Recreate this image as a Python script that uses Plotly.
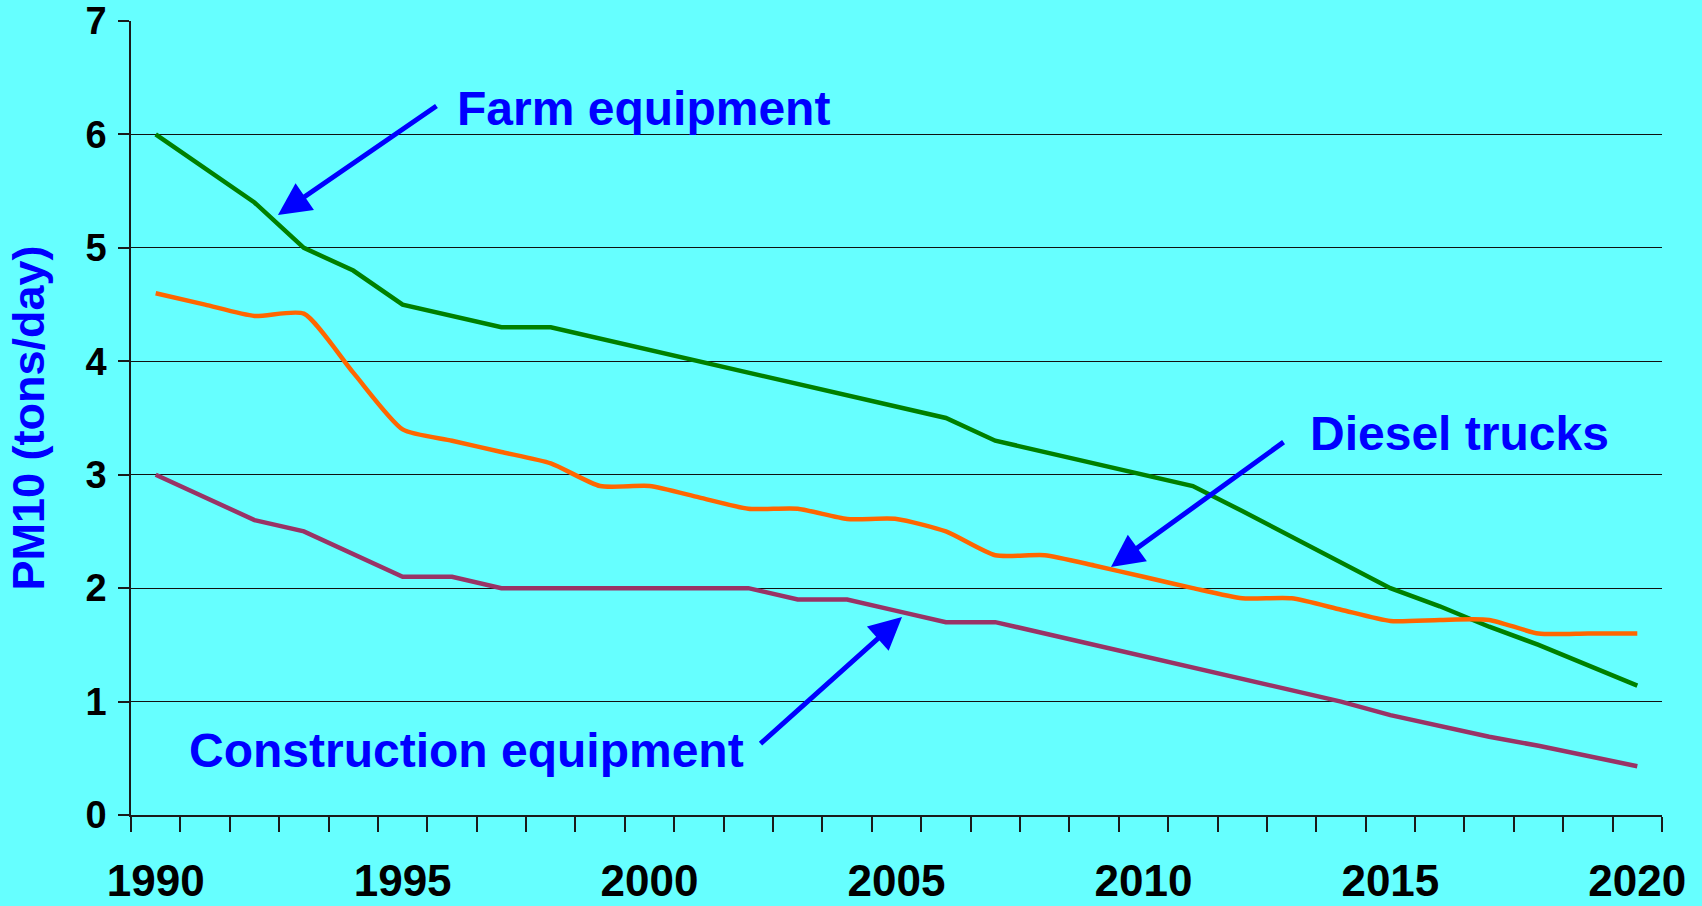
import plotly.graph_objects as go

years = [str(y) for y in range(1990, 2021)]
tick_labels = [y if int(y) % 5 == 0 else "" for y in years]

farm_equipment = [6.0, 5.7, 5.4, 5.0, 4.8, 4.5, 4.4, 4.3, 4.3, 4.2,
                  4.1, 4.0, 3.9, 3.8, 3.7, 3.6, 3.5, 3.3, 3.2, 3.1,
                  3.0, 2.9, 2.68, 2.45, 2.23, 2.0, 1.84, 1.66, 1.5, 1.32,
                  1.14]
diesel_trucks = [4.6, 4.5, 4.4, 4.42, 3.9, 3.4, 3.3, 3.2, 3.1, 2.9,
                 2.9, 2.8, 2.7, 2.7, 2.61, 2.61, 2.5, 2.29, 2.29, 2.2,
                 2.1, 2.0, 1.91, 1.91, 1.81, 1.71, 1.72, 1.72, 1.6, 1.6,
                 1.6]
construction_equipment = [3.0, 2.8, 2.6, 2.5, 2.3, 2.1, 2.1, 2.0, 2.0, 2.0,
                          2.0, 2.0, 2.0, 1.9, 1.9, 1.8, 1.7, 1.7, 1.6, 1.5,
                          1.4, 1.3, 1.2, 1.1, 1.0, 0.88, 0.78, 0.69, 0.61, 0.52,
                          0.43]

FONT = "Arial, Liberation Sans, sans-serif"
BLUE = "#0000FF"

fig = go.Figure()
fig.add_trace(go.Scatter(x=years, y=farm_equipment, mode="lines",
                         line=dict(color="#008000", width=4.5), name="Farm equipment"))
fig.add_trace(go.Scatter(x=years, y=diesel_trucks, mode="lines",
                         line=dict(color="#FF6600", width=4.5, shape="spline", smoothing=0.6),
                         name="Diesel trucks"))
fig.add_trace(go.Scatter(x=years, y=construction_equipment, mode="lines",
                         line=dict(color="#993366", width=4.5), name="Construction equipment"))

# annotation labels and arrows (domain coordinates of the plot area)
labels = [
    ("Farm equipment", 0.2116, 0.8900),
    ("Diesel trucks", 0.7688, 0.4811),
    ("Construction equipment", 0.0366, 0.0810),
]
for text, lx, ly in labels:
    fig.add_annotation(text=text, x=lx, y=ly, xref="x domain", yref="y domain",
                       xanchor="left", yanchor="middle", showarrow=False,
                       font=dict(family=FONT, size=48, color=BLUE, weight="bold"))

arrows = [
    ((0.0960, 0.7557), (0.2005, 0.8942)),
    ((0.6401, 0.3123), (0.7538, 0.4710)),
    ((0.5036, 0.2494), (0.4102, 0.0882)),
]
for (hx, hy), (tx, ty) in arrows:
    fig.add_annotation(text="", x=hx, y=hy, ax=tx, ay=ty,
                       xref="x domain", yref="y domain", axref="x domain", ayref="y domain",
                       showarrow=True, arrowhead=2, arrowsize=1.3, arrowwidth=5,
                       arrowcolor=BLUE)

fig.update_layout(
    width=1702, height=906,
    paper_bgcolor="#66FFFF", plot_bgcolor="#66FFFF",
    margin=dict(l=131, r=40, t=21, b=91, autoexpand=False),
    showlegend=False,
    font=dict(family=FONT),
)
fig.update_xaxes(
    type="category", tickmode="array", tickvals=years, ticktext=tick_labels,
    range=[-0.5, len(years) - 0.5], autorange=False,
    tickson="boundaries", ticks="outside", ticklen=15, tickwidth=1.5, tickcolor="#1a1a1a",
    showgrid=False, showline=True, linecolor="#1a1a1a", linewidth=1.5,
    tickangle=0, automargin=False,
    tickfont=dict(family=FONT, size=44, color="black", weight="bold"),
    ticklabelstandoff=26, zeroline=False,
)
fig.update_yaxes(
    range=[0, 7], dtick=1, tick0=0, ticks="outside", ticklen=11, tickwidth=1.5,
    tickcolor="#1a1a1a", showline=True, linecolor="#1a1a1a", linewidth=1.5,
    showgrid=True, gridcolor="#111111", gridwidth=1.4, zeroline=False,
    automargin=False,
    tickfont=dict(family=FONT, size=38, color="black", weight="bold"),
    ticklabelstandoff=4,
    title=dict(text="PM10 (tons/day)", standoff=27,
               font=dict(family=FONT, size=45, color=BLUE, weight="bold")),
)

fig.write_html("out.html", config={"displayModeBar": False},
               post_script="document.body.style.margin='0';")
